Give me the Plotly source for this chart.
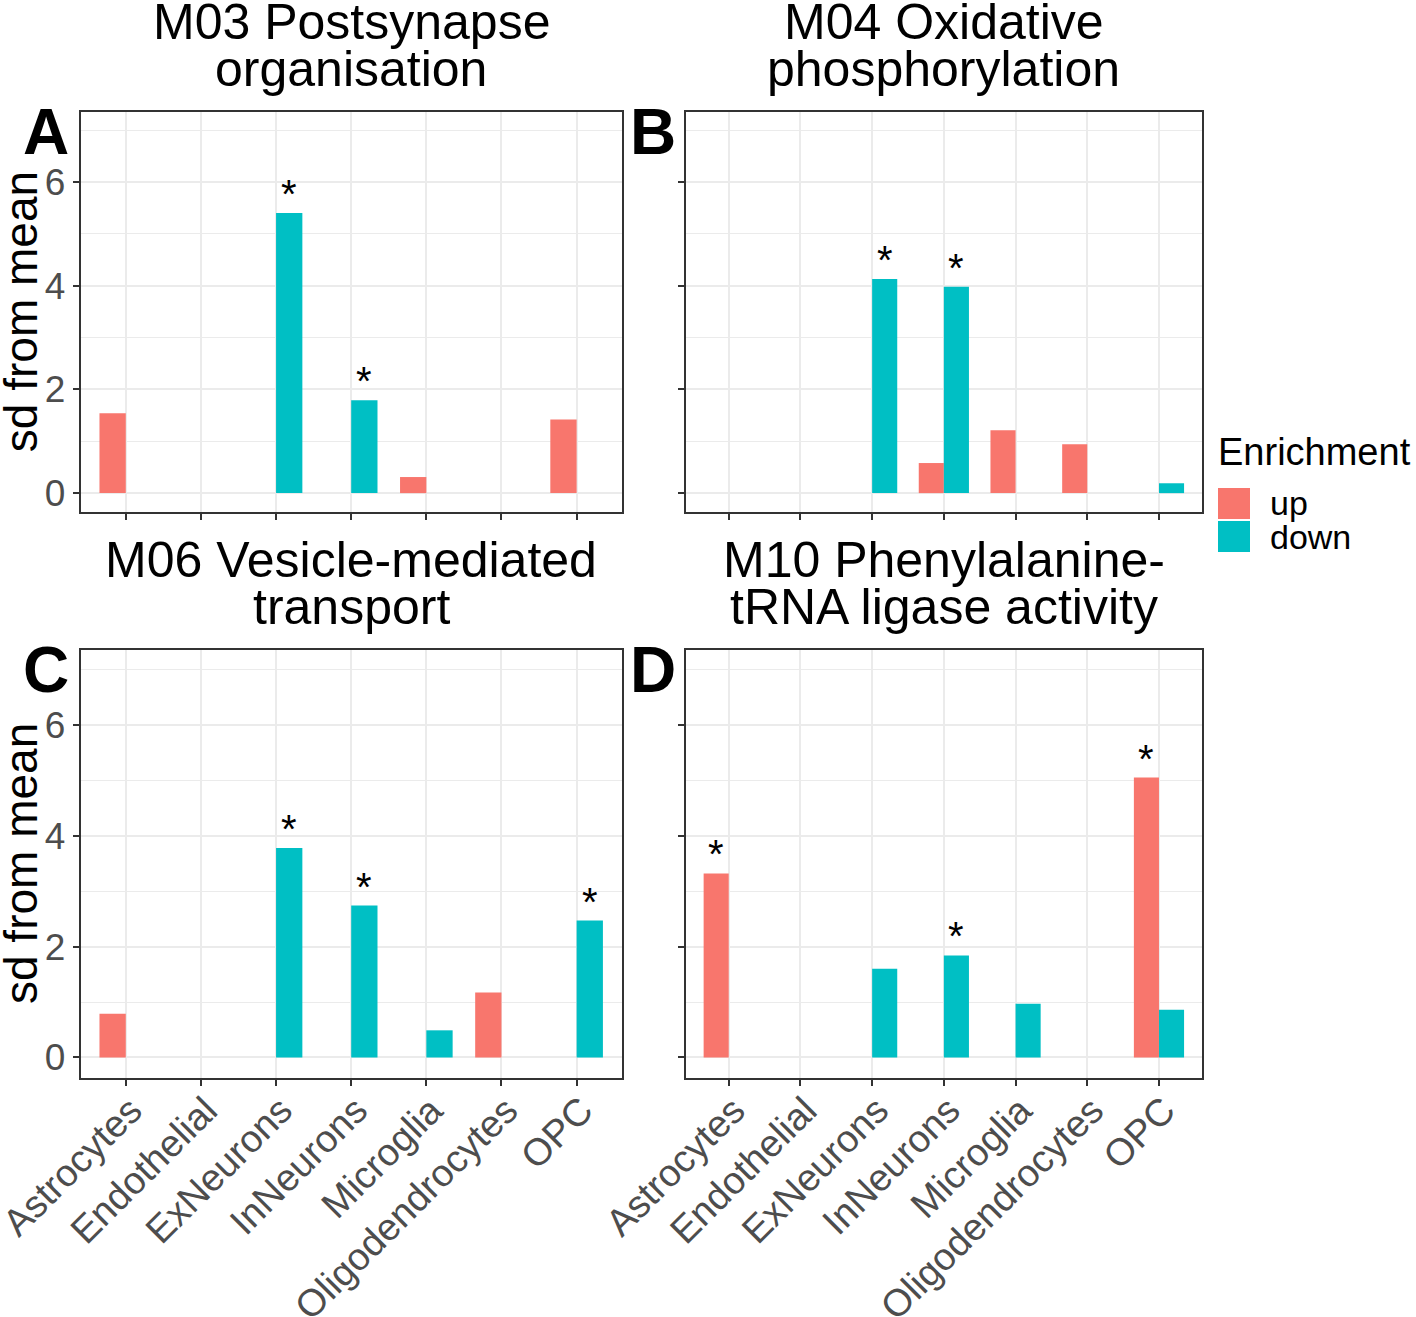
import plotly.graph_objects as go

# ---------------- data ----------------
cells = ["Astrocytes", "Endothelial", "ExNeurons", "InNeurons", "Microglia", "Oligodendrocytes", "OPC"]

m03_up = [1.54, None, None, None, 0.31, None, 1.42]
m03_down = [None, None, 5.40, 1.79, None, None, None]
m03_sig_up = ["", "", "", "", "", "", ""]
m03_sig_down = ["", "", "*", "*", "", "", ""]

m04_up = [None, None, None, 0.58, 1.21, 0.94, None]
m04_down = [None, None, 4.13, 3.98, None, None, 0.19]
m04_sig_up = ["", "", "", "", "", "", ""]
m04_sig_down = ["", "", "*", "*", "", "", ""]

m06_up = [0.79, None, None, None, None, 1.17, None]
m06_down = [None, None, 3.78, 2.74, 0.49, None, 2.47]
m06_sig_up = ["", "", "", "", "", "", ""]
m06_sig_down = ["", "", "*", "*", "", "", "*"]

m10_up = [3.32, None, None, None, None, None, 5.05]
m10_down = [None, None, 1.60, 1.84, 0.97, None, 0.86]
m10_sig_up = ["*", "", "", "", "", "", "*"]
m10_sig_down = ["", "", "", "*", "", "", ""]

titles = [("M03 Postsynapse", "organisation"),
          ("M04 Oxidative", "phosphorylation"),
          ("M06 Vesicle-mediated", "transport"),
          ("M10 Phenylalanine-", "tRNA ligase activity")]
panel_tags = ["A", "B", "C", "D"]
legend_title = "Enrichment"
legend_labels = ["up", "down"]
y_title = "sd from mean"

# ---------------- style ----------------
W, H = 1416, 1317
UP_C, DOWN_C = "#F8766D", "#00BFC4"
FONT = "Liberation Sans, Arial, sans-serif"


def fx(px):
    return px / W


def fy(py):
    return 1 - py / H


# panel boxes in pixels: x0, x1, y0(top), y1(bottom)
boxes = [(80.7, 621.7, 112, 512.3),
         (685.7, 1202, 112, 512.3),
         (80.7, 621.7, 650, 1078),
         (685.7, 1202, 650, 1078)]
left_col = [True, False, True, False]
bottom_row = [False, False, True, True]

ups = [m03_up, m04_up, m06_up, m10_up]
downs = [m03_down, m04_down, m06_down, m10_down]
sig_ups = [m03_sig_up, m04_sig_up, m06_sig_up, m10_sig_up]
sig_downs = [m03_sig_down, m04_sig_down, m06_sig_down, m10_sig_down]

fig = go.Figure()
annotations = []
shapes = []
xs = list(range(len(cells)))
half = 0.35 / 2

for i in range(4):
    n = "" if i == 0 else str(i + 1)
    xa, ya = "x" + n, "y" + n
    fig.add_trace(go.Bar(x=xs, y=ups[i], name=legend_labels[0], marker=dict(color=UP_C, line=dict(width=0)),
                         xaxis=xa, yaxis=ya, showlegend=False, hoverinfo="skip"))
    fig.add_trace(go.Bar(x=xs, y=downs[i], name=legend_labels[1], marker=dict(color=DOWN_C, line=dict(width=0)),
                         xaxis=xa, yaxis=ya, showlegend=False, hoverinfo="skip"))
    x0, x1, y0, y1 = boxes[i]
    fig.update_layout(**{
        "xaxis" + n: dict(domain=[fx(x0), fx(x1)], range=[-0.6, 6.6], anchor=ya, automargin=False,
                          tickmode="array", tickvals=xs, ticktext=cells,
                          showticklabels=bottom_row[i], tickangle=-45, ticklabeloverflow="allow",
                          ticklabelstandoff=-13, ticklabelshift=5,
                          tickfont=dict(family=FONT, size=38, color="#4D4D4D"),
                          ticks="outside", ticklen=6, tickwidth=1.5, tickcolor="#333333",
                          showgrid=True, gridcolor="#EBEBEB", gridwidth=1.5,
                          showline=True, mirror=True, linecolor="#333333", linewidth=1.8,
                          zeroline=False, fixedrange=True),
        "yaxis" + n: dict(domain=[fy(y1), fy(y0)], range=[-0.37, 7.35], anchor=xa, automargin=False,
                          tickmode="linear", tick0=0, dtick=2, ticklabeloverflow="allow",
                          showticklabels=left_col[i],
                          tickfont=dict(family=FONT, size=37, color="#4D4D4D"),
                          ticks="outside", ticklen=6, tickwidth=1.5, tickcolor="#333333",
                          showgrid=True, gridcolor="#EBEBEB", gridwidth=1.5,
                          minor=dict(tick0=0, dtick=1, showgrid=True, gridcolor="#EBEBEB",
                                     gridwidth=0.9, ticks=""),
                          showline=True, mirror=True, linecolor="#333333", linewidth=1.8,
                          zeroline=False, fixedrange=True),
    })
    # significance stars
    for j in xs:
        if sig_ups[i][j] and ups[i][j] is not None:
            annotations.append(dict(x=j - half, y=ups[i][j], xref=xa, yref=ya, text=sig_ups[i][j],
                                    showarrow=False, yanchor="middle", yshift=19,
                                    font=dict(family=FONT, size=40, color="black")))
        if sig_downs[i][j] and downs[i][j] is not None:
            annotations.append(dict(x=j + half, y=downs[i][j], xref=xa, yref=ya, text=sig_downs[i][j],
                                    showarrow=False, yanchor="middle", yshift=19,
                                    font=dict(family=FONT, size=40, color="black")))
    # titles (two lines)
    cx = (x0 + x1) / 2
    annotations.append(dict(x=fx(cx), y=fy(y0 - 90.5), xref="paper", yref="paper", text=titles[i][0],
                            showarrow=False, xanchor="center", yanchor="middle",
                            font=dict(family=FONT, size=50, color="black")))
    annotations.append(dict(x=fx(cx), y=fy(y0 - 42.5), xref="paper", yref="paper", text=titles[i][1],
                            showarrow=False, xanchor="center", yanchor="middle",
                            font=dict(family=FONT, size=50, color="black")))
    # panel tag
    annotations.append(dict(x=fx(x0 - 35 if left_col[i] else x0 - 33), y=fy(y0 + 20), xref="paper", yref="paper",
                            text="<b>%s</b>" % panel_tags[i], showarrow=False,
                            xanchor="center", yanchor="middle",
                            font=dict(family=FONT, size=64, color="black")))
    # y axis title
    if left_col[i]:
        annotations.append(dict(x=fx(21), y=fy((y0 + y1) / 2), xref="paper", yref="paper", text=y_title,
                                textangle=-90, showarrow=False, xanchor="center", yanchor="middle",
                                font=dict(family=FONT, size=46, color="black")))

# manual legend
annotations.append(dict(x=fx(1216), y=fy(452), xref="paper", yref="paper", text=legend_title,
                        showarrow=False, xanchor="left", yanchor="middle",
                        font=dict(family=FONT, size=38, color="black")))
for k, (lab, col) in enumerate(zip(legend_labels, [UP_C, DOWN_C])):
    top = 488 + k * 33
    shapes.append(dict(type="rect", xref="paper", yref="paper", x0=fx(1218), x1=fx(1250),
                       y0=fy(top + 31), y1=fy(top), fillcolor=col, line=dict(width=0)))
    annotations.append(dict(x=fx(1268), y=fy(top + 15.5), xref="paper", yref="paper", text=lab,
                            showarrow=False, xanchor="left", yanchor="middle",
                            font=dict(family=FONT, size=34, color="black")))

fig.update_layout(width=W, height=H, margin=dict(l=0, r=0, t=0, b=0, autoexpand=False),
                  paper_bgcolor="white", plot_bgcolor="white",
                  barmode="group", bargap=0.3, bargroupgap=0,
                  annotations=annotations, shapes=shapes,
                  font=dict(family=FONT))

fig.write_html("out.html", config={"displayModeBar": False},
               post_script="document.body.style.margin='0px';")
